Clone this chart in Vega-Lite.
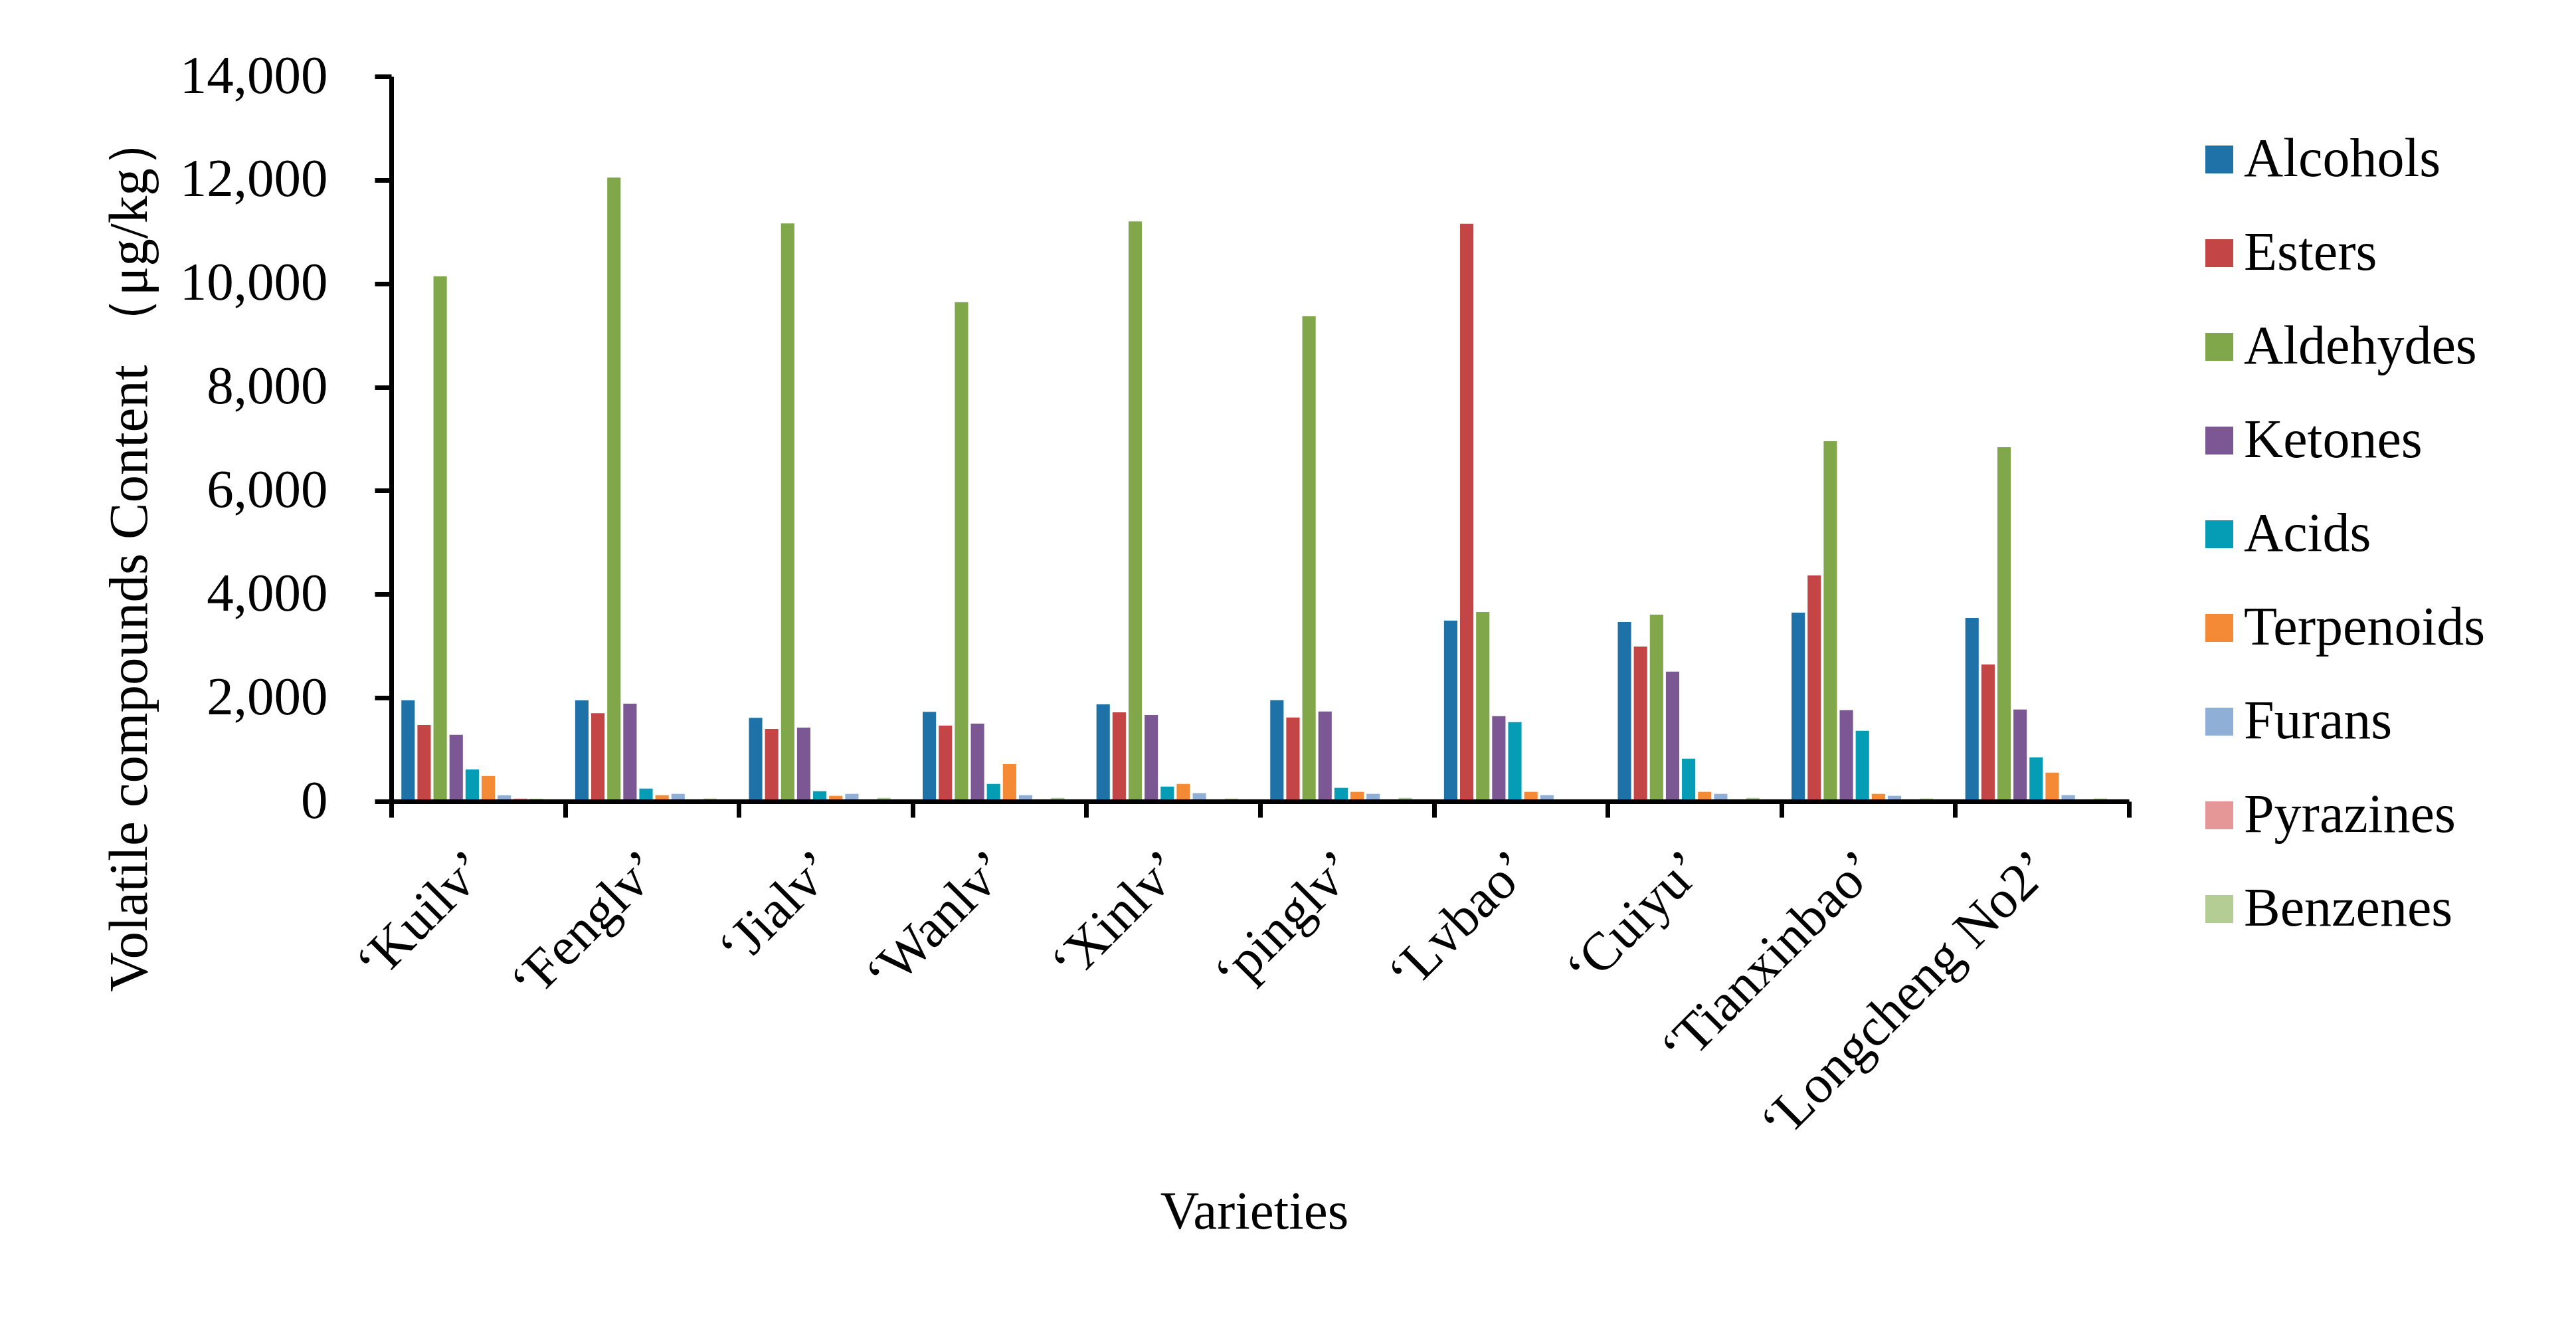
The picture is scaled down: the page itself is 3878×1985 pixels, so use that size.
{
  "$schema": "https://vega.github.io/schema/vega-lite/v6.json",
  "autosize": {"type": "none"},
  "padding": {"left": 589, "top": 115, "right": 673, "bottom": 779},
  "width": 2616,
  "height": 1091,
  "background": "white",
  "config": {
    "view": {"stroke": null},
    "font": "Liberation Serif",
    "axis": {"labelFont": "Liberation Serif", "titleFont": "Liberation Serif", "labelColor": "#000000", "titleColor": "#000000", "titleFontWeight": "normal"},
    "legend": {"labelFont": "Liberation Serif", "labelColor": "#000000"}
  },
  "data": {
    "values": [
      {"variety": "‘Kuilv’", "compound": "Alcohols", "content": 1950},
      {"variety": "‘Kuilv’", "compound": "Esters", "content": 1475},
      {"variety": "‘Kuilv’", "compound": "Aldehydes", "content": 10140},
      {"variety": "‘Kuilv’", "compound": "Ketones", "content": 1285},
      {"variety": "‘Kuilv’", "compound": "Acids", "content": 615},
      {"variety": "‘Kuilv’", "compound": "Terpenoids", "content": 490},
      {"variety": "‘Kuilv’", "compound": "Furans", "content": 118},
      {"variety": "‘Kuilv’", "compound": "Pyrazines", "content": 55},
      {"variety": "‘Kuilv’", "compound": "Benzenes", "content": 52},
      {"variety": "‘Fenglv’", "compound": "Alcohols", "content": 1950},
      {"variety": "‘Fenglv’", "compound": "Esters", "content": 1705},
      {"variety": "‘Fenglv’", "compound": "Aldehydes", "content": 12045},
      {"variety": "‘Fenglv’", "compound": "Ketones", "content": 1885},
      {"variety": "‘Fenglv’", "compound": "Acids", "content": 247},
      {"variety": "‘Fenglv’", "compound": "Terpenoids", "content": 119},
      {"variety": "‘Fenglv’", "compound": "Furans", "content": 145},
      {"variety": "‘Fenglv’", "compound": "Pyrazines", "content": 0},
      {"variety": "‘Fenglv’", "compound": "Benzenes", "content": 55},
      {"variety": "‘Jialv’", "compound": "Alcohols", "content": 1615},
      {"variety": "‘Jialv’", "compound": "Esters", "content": 1400},
      {"variety": "‘Jialv’", "compound": "Aldehydes", "content": 11160},
      {"variety": "‘Jialv’", "compound": "Ketones", "content": 1425},
      {"variety": "‘Jialv’", "compound": "Acids", "content": 196},
      {"variety": "‘Jialv’", "compound": "Terpenoids", "content": 107},
      {"variety": "‘Jialv’", "compound": "Furans", "content": 145},
      {"variety": "‘Jialv’", "compound": "Pyrazines", "content": 0},
      {"variety": "‘Jialv’", "compound": "Benzenes", "content": 68},
      {"variety": "‘Wanlv’", "compound": "Alcohols", "content": 1730},
      {"variety": "‘Wanlv’", "compound": "Esters", "content": 1463},
      {"variety": "‘Wanlv’", "compound": "Aldehydes", "content": 9640},
      {"variety": "‘Wanlv’", "compound": "Ketones", "content": 1500},
      {"variety": "‘Wanlv’", "compound": "Acids", "content": 337},
      {"variety": "‘Wanlv’", "compound": "Terpenoids", "content": 720},
      {"variety": "‘Wanlv’", "compound": "Furans", "content": 119},
      {"variety": "‘Wanlv’", "compound": "Pyrazines", "content": 0},
      {"variety": "‘Wanlv’", "compound": "Benzenes", "content": 68},
      {"variety": "‘Xinlv’", "compound": "Alcohols", "content": 1872},
      {"variety": "‘Xinlv’", "compound": "Esters", "content": 1718},
      {"variety": "‘Xinlv’", "compound": "Aldehydes", "content": 11200},
      {"variety": "‘Xinlv’", "compound": "Ketones", "content": 1667},
      {"variety": "‘Xinlv’", "compound": "Acids", "content": 286},
      {"variety": "‘Xinlv’", "compound": "Terpenoids", "content": 337},
      {"variety": "‘Xinlv’", "compound": "Furans", "content": 158},
      {"variety": "‘Xinlv’", "compound": "Pyrazines", "content": 0},
      {"variety": "‘Xinlv’", "compound": "Benzenes", "content": 55},
      {"variety": "‘pinglv’", "compound": "Alcohols", "content": 1953},
      {"variety": "‘pinglv’", "compound": "Esters", "content": 1620},
      {"variety": "‘pinglv’", "compound": "Aldehydes", "content": 9368},
      {"variety": "‘pinglv’", "compound": "Ketones", "content": 1735},
      {"variety": "‘pinglv’", "compound": "Acids", "content": 261},
      {"variety": "‘pinglv’", "compound": "Terpenoids", "content": 184},
      {"variety": "‘pinglv’", "compound": "Furans", "content": 145},
      {"variety": "‘pinglv’", "compound": "Pyrazines", "content": 0},
      {"variety": "‘pinglv’", "compound": "Benzenes", "content": 68},
      {"variety": "‘Lvbao’", "compound": "Alcohols", "content": 3490},
      {"variety": "‘Lvbao’", "compound": "Esters", "content": 11155},
      {"variety": "‘Lvbao’", "compound": "Aldehydes", "content": 3658},
      {"variety": "‘Lvbao’", "compound": "Ketones", "content": 1645},
      {"variety": "‘Lvbao’", "compound": "Acids", "content": 1530},
      {"variety": "‘Lvbao’", "compound": "Terpenoids", "content": 184},
      {"variety": "‘Lvbao’", "compound": "Furans", "content": 120},
      {"variety": "‘Lvbao’", "compound": "Pyrazines", "content": 0},
      {"variety": "‘Lvbao’", "compound": "Benzenes", "content": 0},
      {"variety": "‘Cuiyu’", "compound": "Alcohols", "content": 3466},
      {"variety": "‘Cuiyu’", "compound": "Esters", "content": 2990},
      {"variety": "‘Cuiyu’", "compound": "Aldehydes", "content": 3607},
      {"variety": "‘Cuiyu’", "compound": "Ketones", "content": 2504},
      {"variety": "‘Cuiyu’", "compound": "Acids", "content": 825},
      {"variety": "‘Cuiyu’", "compound": "Terpenoids", "content": 184},
      {"variety": "‘Cuiyu’", "compound": "Furans", "content": 145},
      {"variety": "‘Cuiyu’", "compound": "Pyrazines", "content": 0},
      {"variety": "‘Cuiyu’", "compound": "Benzenes", "content": 68},
      {"variety": "‘Tianxinbao’", "compound": "Alcohols", "content": 3645},
      {"variety": "‘Tianxinbao’", "compound": "Esters", "content": 4363},
      {"variety": "‘Tianxinbao’", "compound": "Aldehydes", "content": 6955},
      {"variety": "‘Tianxinbao’", "compound": "Ketones", "content": 1761},
      {"variety": "‘Tianxinbao’", "compound": "Acids", "content": 1363},
      {"variety": "‘Tianxinbao’", "compound": "Terpenoids", "content": 145},
      {"variety": "‘Tianxinbao’", "compound": "Furans", "content": 107},
      {"variety": "‘Tianxinbao’", "compound": "Pyrazines", "content": 0},
      {"variety": "‘Tianxinbao’", "compound": "Benzenes", "content": 56},
      {"variety": "‘Longcheng No2’", "compound": "Alcohols", "content": 3543},
      {"variety": "‘Longcheng No2’", "compound": "Esters", "content": 2645},
      {"variety": "‘Longcheng No2’", "compound": "Aldehydes", "content": 6840},
      {"variety": "‘Longcheng No2’", "compound": "Ketones", "content": 1774},
      {"variety": "‘Longcheng No2’", "compound": "Acids", "content": 850},
      {"variety": "‘Longcheng No2’", "compound": "Terpenoids", "content": 556},
      {"variety": "‘Longcheng No2’", "compound": "Furans", "content": 120},
      {"variety": "‘Longcheng No2’", "compound": "Pyrazines", "content": 0},
      {"variety": "‘Longcheng No2’", "compound": "Benzenes", "content": 56}
    ]
  },
  "mark": {"type": "bar"},
  "encoding": {
    "x": {
      "field": "variety",
      "type": "nominal",
      "sort": null,
      "scale": {"paddingInner": 0, "paddingOuter": 0},
      "axis": {
        "title": "Varieties",
        "titleFontSize": 81,
        "titleX": 1299,
        "titleY": 642,
        "titleAlign": "center",
        "titleBaseline": "alphabetic",
        "labelFontSize": 81,
        "labelAngle": -45,
        "labelAlign": "right",
        "labelBaseline": "middle",
        "labelPadding": 65,
        "labelLimit": 2000,
        "labelOverlap": false,
        "labelBound": false,
        "tickBand": "extent",
        "tickSize": 24,
        "tickWidth": 7,
        "tickColor": "#000000",
        "domainColor": "#000000",
        "domainWidth": 7,
        "grid": false,
        "zindex": 1
      }
    },
    "xOffset": {
      "field": "compound",
      "type": "nominal",
      "scale": {
        "domain": ["Alcohols", "Esters", "Aldehydes", "Ketones", "Acids", "Terpenoids", "Furans", "Pyrazines", "Benzenes"],
        "paddingInner": 0.1667,
        "paddingOuter": 1.32,
        "align": 0.316
      }
    },
    "y": {
      "field": "content",
      "type": "quantitative",
      "scale": {"domain": [0, 14000], "nice": false},
      "axis": {
        "title": "Volatile compounds Content （μg/kg）",
        "titleFontSize": 83,
        "titleX": -369,
        "titleY": 716,
        "titleAngle": -90,
        "titleAlign": "center",
        "titleBaseline": "alphabetic",
        "values": [0, 2000, 4000, 6000, 8000, 10000, 12000, 14000],
        "format": ",d",
        "labelFontSize": 81,
        "labelPadding": 71,
        "labelLimit": 2000,
        "tickSize": 25,
        "tickWidth": 7,
        "tickColor": "#000000",
        "domainColor": "#000000",
        "domainWidth": 7,
        "grid": false,
        "zindex": 1
      }
    },
    "color": {
      "field": "compound",
      "type": "nominal",
      "scale": {
        "domain": ["Alcohols", "Esters", "Aldehydes", "Ketones", "Acids", "Terpenoids", "Furans", "Pyrazines", "Benzenes"],
        "range": ["#1F72A8", "#C34545", "#80A74A", "#7B5894", "#059CB5", "#F48A36", "#8FAFD6", "#E59797", "#B3CD94"]
      },
      "legend": {
        "title": null,
        "orient": "none",
        "legendX": 2711,
        "legendY": 84,
        "direction": "vertical",
        "padding": 0,
        "symbolType": "square",
        "symbolSize": 1764,
        "symbolStrokeWidth": 0,
        "labelFontSize": 82,
        "labelOffset": -4,
        "labelLimit": 2000,
        "rowPadding": 59,
        "labelExpr": "datum.value == 'Benzenes' ? '\u00a0\u200aBenzenes' : datum.label"
      }
    }
  }
}
